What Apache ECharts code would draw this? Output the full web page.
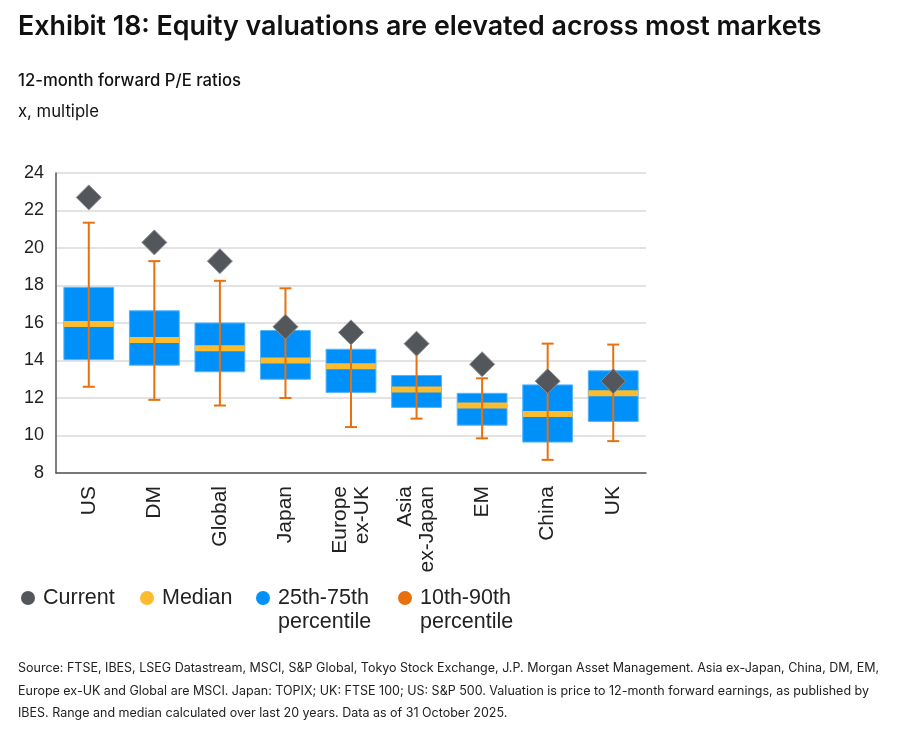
<!DOCTYPE html>
<html>
<head>
<meta charset="utf-8">
<script src="https://cdn.jsdelivr.net/npm/echarts@6/dist/echarts.min.js"></script>
<style>
  html, body { margin: 0; padding: 0; background: #fff; }
  #chart { width: 900px; height: 734px; }
</style>
</head>
<body>
<div id="chart"></div>
<script>
var markets = ['US', 'DM', 'Global', 'Japan', 'Europe\nex-UK', 'Asia\nex-Japan', 'EM', 'China', 'UK'];
var current = [22.7, 20.3, 19.3, 15.8, 15.5, 14.9, 13.8, 12.9, 12.9];
var p10 = [12.6, 11.9, 11.6, 12.0, 10.45, 10.9, 9.85, 8.7, 9.7];
var p25 = [14.05, 13.75, 13.4, 13.0, 12.3, 11.5, 10.55, 9.65, 10.75];
var median = [15.95, 15.1, 14.65, 14.0, 13.7, 12.45, 11.6, 11.15, 12.25];
var p75 = [17.9, 16.65, 16.0, 15.6, 14.6, 13.2, 12.25, 12.7, 13.45];
var p90 = [21.35, 19.3, 18.25, 17.85, 15.4, 14.7, 13.05, 14.9, 14.85];
var yTicks = [8, 10, 12, 14, 16, 18, 20, 22, 24];

var colBox = '#0090fa', colMed = '#fdbb30', colWhisk = '#e8700e', colCur = '#53575b';
var sans = 'Liberation Sans, Arial, sans-serif';

var boxData = [], medData = [], whiskData = [];
for (var i = 0; i < markets.length; i++) {
    boxData.push([i, p25[i], p75[i]]);
    medData.push([i, median[i]]);
    whiskData.push([i, p10[i], p90[i]]);
}

function renderBox(params, api) {
    var lo = api.coord([api.value(0), api.value(1)]);
    var hi = api.coord([api.value(0), api.value(2)]);
    var w = api.size([1, 0])[0] * 0.76;
    return {
        type: 'rect',
        shape: {x: lo[0] - w / 2, y: hi[1], width: w, height: lo[1] - hi[1]},
        style: {fill: colBox, stroke: '#55b4ff', lineWidth: 1}
    };
}

function renderMedian(params, api) {
    var p = api.coord([api.value(0), api.value(1)]);
    var w = api.size([1, 0])[0] * 0.76;
    return {
        type: 'rect',
        shape: {x: p[0] - w / 2, y: p[1] - 3, width: w, height: 6},
        style: {fill: colMed}
    };
}

function renderWhisker(params, api) {
    var lo = api.coord([api.value(0), api.value(1)]);
    var hi = api.coord([api.value(0), api.value(2)]);
    var c = 6;
    var st = {stroke: colWhisk, lineWidth: 2};
    return {
        type: 'group',
        children: [
            {type: 'line', shape: {x1: lo[0], y1: lo[1], x2: hi[0], y2: hi[1]}, style: st},
            {type: 'line', shape: {x1: lo[0] - c, y1: lo[1], x2: lo[0] + c, y2: lo[1]}, style: st},
            {type: 'line', shape: {x1: hi[0] - c, y1: hi[1], x2: hi[0] + c, y2: hi[1]}, style: st}
        ]
    };
}

// legend drawn as graphic so the marker sits on the first line
var legendItems = [
    {name: 'Current', color: colCur, x: 28},
    {name: 'Median', color: colMed, x: 147},
    {name: '25th-75th\npercentile', color: colBox, x: 263},
    {name: '10th-90th\npercentile', color: colWhisk, x: 405}
];
var legendGraphics = [];
legendItems.forEach(function (it) {
    legendGraphics.push({
        type: 'circle', shape: {cx: it.x, cy: 598, r: 7}, style: {fill: it.color}
    });
    legendGraphics.push({
        type: 'text', x: it.x + 15, y: 586,
        style: {text: it.name, fontSize: 21.5, lineHeight: 24, fill: '#222', fontFamily: sans}
    });
});

var footnote = 'Source: FTSE, IBES, LSEG Datastream, MSCI, S&P Global, Tokyo Stock Exchange, J.P. Morgan Asset Management. Asia ex-Japan, China, DM, EM,\n' +
    'Europe ex-UK and Global are MSCI. Japan: TOPIX; UK: FTSE 100; US: S&P 500. Valuation is price to 12-month forward earnings, as published by\n' +
    'IBES. Range and median calculated over last 20 years. Data as of 31 October 2025.';

var option = {
    backgroundColor: '#fff',
    animation: false,
    title: [
        {text: 'Exhibit 18: Equity valuations are elevated across most markets', left: 13, top: 8,
            textStyle: {fontFamily: 'Inter', fontSize: 26.8, fontWeight: 600, color: '#111'}},
        {text: '12-month forward P/E ratios', left: 13, top: 67,
            textStyle: {fontFamily: 'Inter', fontSize: 16.7, fontWeight: 500, color: '#111'}},
        {text: 'x, multiple', left: 13, top: 98,
            textStyle: {fontFamily: 'Inter', fontSize: 16.7, fontWeight: 400, color: '#111'}}
    ],
    grid: {left: 56, right: 254, top: 173, bottom: 261},
    xAxis: {
        type: 'category',
        data: markets,
        axisLine: {lineStyle: {color: '#555', width: 1.5}},
        axisTick: {show: false},
        axisLabel: {rotate: 90, margin: 13, fontSize: 21, lineHeight: 22, color: '#222', fontFamily: sans}
    },
    yAxis: {
        type: 'value',
        min: 8, max: 24, interval: 2,
        axisLine: {show: true, lineStyle: {color: '#555', width: 1.5}},
        axisTick: {show: false},
        splitLine: {lineStyle: {color: '#dadada', width: 1.5}},
        axisLabel: {margin: 12, fontSize: 18, color: '#222', fontFamily: sans,
            formatter: function (v) { return yTicks.indexOf(v) >= 0 ? String(v) : ''; }}
    },
    series: [
        {name: '25th-75th percentile', type: 'custom', renderItem: renderBox,
            encode: {x: 0, y: [1, 2]}, data: boxData, z: 2},
        {name: 'Median', type: 'custom', renderItem: renderMedian,
            encode: {x: 0, y: 1}, data: medData, z: 3},
        {name: '10th-90th percentile', type: 'custom', renderItem: renderWhisker,
            encode: {x: 0, y: [1, 2]}, data: whiskData, z: 4},
        {name: 'Current', type: 'scatter', symbol: 'diamond', symbolSize: [25, 25],
            itemStyle: {color: colCur, borderColor: '#8e9195', borderWidth: 1, opacity: 1},
            data: current.map(function (v, i) { return [i, v]; }), z: 5}
    ],
    graphic: legendGraphics.concat([
        {type: 'text', left: 18, top: 657,
            style: {text: footnote, fontSize: 12.5, lineHeight: 22.5, fill: '#222', fontFamily: 'Inter'}}
    ])
};

var chart = echarts.init(document.getElementById('chart'));
chart.setOption(option);
</script>
</body>
</html>
